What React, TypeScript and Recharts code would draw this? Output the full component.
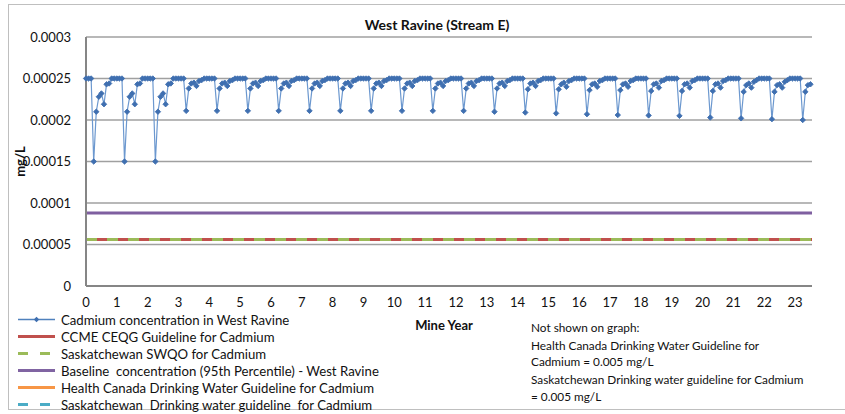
import React from 'react';
import { LineChart, Line, XAxis, YAxis, CartesianGrid, ReferenceLine, Legend } from 'recharts';

// mine year ticks along the bottom
const yearTicks = [0, 1, 2, 3, 4, 5, 6, 7, 8, 9, 10, 11, 12, 13, 14, 15, 16, 17, 18, 19, 20, 21, 22, 23];

const yTicks = [0, 0.00005, 0.0001, 0.00015, 0.0002, 0.00025, 0.0003];
const yTickLabels = ['0', '0.00005', '0.0001', '0.00015', '0.0002', '0.00025', '0.0003'];

// monthly cadmium concentration (mg/L), one row per mine year
const cadmiumByYear: number[][] = [
  [0.00025, 0.00025, 0.00025, 0.00015, 0.00021, 0.000228, 0.000232, 0.000219, 0.000243, 0.000244, 0.00025, 0.00025],
  [0.00025, 0.00025, 0.00025, 0.00015, 0.00021, 0.000228, 0.000232, 0.000219, 0.000243, 0.000244, 0.00025, 0.00025],
  [0.00025, 0.00025, 0.00025, 0.00015, 0.00021, 0.000228, 0.000232, 0.000219, 0.000243, 0.000244, 0.00025, 0.00025],
  [0.00025, 0.00025, 0.00025, 0.000211, 0.000238, 0.000244, 0.000245, 0.000241, 0.000247, 0.000248, 0.00025, 0.00025],
  [0.00025, 0.00025, 0.00025, 0.000211, 0.000238, 0.000244, 0.000245, 0.000241, 0.000247, 0.000248, 0.00025, 0.00025],
  [0.00025, 0.00025, 0.00025, 0.000211, 0.000238, 0.000244, 0.000245, 0.000241, 0.000247, 0.000248, 0.00025, 0.00025],
  [0.00025, 0.00025, 0.00025, 0.000211, 0.000238, 0.000244, 0.000245, 0.000241, 0.000247, 0.000248, 0.00025, 0.00025],
  [0.00025, 0.00025, 0.00025, 0.000211, 0.000238, 0.000244, 0.000245, 0.000241, 0.000247, 0.000248, 0.00025, 0.00025],
  [0.00025, 0.00025, 0.00025, 0.000211, 0.000238, 0.000244, 0.000245, 0.000241, 0.000247, 0.000248, 0.00025, 0.00025],
  [0.00025, 0.00025, 0.00025, 0.000211, 0.000238, 0.000244, 0.000245, 0.000241, 0.000247, 0.000248, 0.00025, 0.00025],
  [0.00025, 0.00025, 0.00025, 0.000211, 0.000238, 0.000244, 0.000245, 0.000241, 0.000247, 0.000248, 0.00025, 0.00025],
  [0.00025, 0.00025, 0.00025, 0.000211, 0.000238, 0.000244, 0.000245, 0.000241, 0.000247, 0.000248, 0.00025, 0.00025],
  [0.00025, 0.00025, 0.00025, 0.000211, 0.000238, 0.000244, 0.000245, 0.000241, 0.000247, 0.000248, 0.00025, 0.00025],
  [0.00025, 0.00025, 0.00025, 0.00021, 0.000238, 0.000244, 0.000245, 0.000241, 0.000247, 0.000248, 0.00025, 0.00025],
  [0.00025, 0.00025, 0.00025, 0.000209, 0.000237, 0.000244, 0.000245, 0.000241, 0.000247, 0.000248, 0.00025, 0.00025],
  [0.00025, 0.00025, 0.00025, 0.000208, 0.000237, 0.000243, 0.000245, 0.00024, 0.000247, 0.000248, 0.00025, 0.00025],
  [0.00025, 0.00025, 0.00025, 0.000207, 0.000236, 0.000243, 0.000244, 0.00024, 0.000247, 0.000248, 0.00025, 0.00025],
  [0.00025, 0.00025, 0.00025, 0.000206, 0.000236, 0.000243, 0.000244, 0.00024, 0.000247, 0.000248, 0.00025, 0.00025],
  [0.00025, 0.00025, 0.00025, 0.0002055, 0.000235, 0.000243, 0.000244, 0.000239, 0.000247, 0.000248, 0.00025, 0.00025],
  [0.00025, 0.00025, 0.00025, 0.000205, 0.000235, 0.000243, 0.000244, 0.000239, 0.000247, 0.000248, 0.00025, 0.00025],
  [0.00025, 0.00025, 0.00025, 0.000203, 0.000235, 0.000243, 0.000244, 0.000239, 0.000247, 0.000248, 0.00025, 0.00025],
  [0.00025, 0.00025, 0.00025, 0.000202, 0.000234, 0.000242, 0.000244, 0.000239, 0.000246, 0.000248, 0.00025, 0.00025],
  [0.00025, 0.00025, 0.00025, 0.000201, 0.000234, 0.000242, 0.000243, 0.000239, 0.000246, 0.000248, 0.00025, 0.00025],
  [0.00025, 0.00025, 0.00025, 0.0002, 0.000234, 0.000242, 0.000243],
];

const ccmeGuideline = 0.000056;
const swqoGuideline = 0.000056;
const baselineP95 = 0.000088;

const legendItems = [
  { label: 'Cadmium concentration in West Ravine', color: '#4F81BD', dashed: false, marker: true },
  { label: 'CCME CEQG Guideline for Cadmium', color: '#C0504D', dashed: false, marker: false },
  { label: 'Saskatchewan SWQO for Cadmium', color: '#9BBB59', dashed: true, marker: false },
  { label: 'Baseline  concentration (95th Percentile) - West Ravine', color: '#8064A2', dashed: false, marker: false },
  { label: 'Health Canada Drinking Water Guideline for Cadmium', color: '#F79646', dashed: false, marker: false },
  { label: 'Saskatchewan  Drinking water guideline  for Cadmium', color: '#4BACC6', dashed: true, marker: false },
];

const notes = [
  'Not shown on graph:',
  'Health Canada Drinking Water Guideline for',
  'Cadmium = 0.005 mg/L',
  'Saskatchewan Drinking water guideline for Cadmium',
  '= 0.005 mg/L',
];
const noteTops = [328, 346, 362, 380, 397];

const FONT = 'Lato, "Open Sans", sans-serif';

const data = cadmiumByYear.flatMap((months, y) =>
  months.map((v, m) => ({ year: y + m / 12, cadmium: v }))
);

const Diamond = (props: any) => {
  const { cx, cy } = props;
  if (cx == null || cy == null) return null;
  const r = 2.7;
  return (
    <path
      d={`M${cx},${cy - r}L${cx + r},${cy}L${cx},${cy + r}L${cx - r},${cy}Z`}
      fill="#3F6FB0"
      stroke="#3F6FB0"
      strokeWidth={0.9}
    />
  );
};

const renderLegend = () => (
  <div style={{ fontFamily: FONT, fontSize: 13.2, color: '#111' }}>
    {legendItems.map((item) => (
      <div key={item.label} style={{ display: 'flex', alignItems: 'center', height: 17, whiteSpace: 'pre' }}>
        <svg width={43} height={17} style={{ display: 'block' }}>
          <line
            x1={0}
            x2={37}
            y1={8.5}
            y2={8.5}
            stroke={item.color}
            strokeWidth={item.marker ? 1.3 : 3}
            strokeDasharray={item.dashed ? '10 12' : undefined}
          />
          {item.marker && <path d="M18.5,5.8L21.2,8.5L18.5,11.2L15.8,8.5Z" fill="#3F6FB0" />}
        </svg>
        <span style={{ lineHeight: '14px' }}>{item.label}</span>
      </div>
    ))}
  </div>
);

export default function App() {
  return (
    <div style={{ position: 'absolute', left: 0, top: 0, width: 845, height: 414, overflow: 'hidden', background: '#fff' }}>
      <div
        style={{
          position: 'absolute',
          left: 8,
          top: 4,
          width: 837,
          height: 406,
          boxSizing: 'border-box',
          borderTop: '1px solid #BFBFBF',
          borderLeft: '1px solid #BFBFBF',
          borderBottom: '1px solid #BFBFBF',
        }}
      />
      <div
        style={{
          position: 'absolute',
          left: 0,
          width: 874,
          top: 16,
          textAlign: 'center',
          fontFamily: FONT,
          fontWeight: 'bold',
          fontSize: 14,
          color: '#111',
        }}
      >
        West Ravine (Stream E)
      </div>
      <LineChart width={845} height={414} data={data} margin={{ top: 37, right: 33, bottom: 0, left: 0 }}>
        <CartesianGrid vertical={false} stroke="#A0A0A0" strokeWidth={1.5} />
        <XAxis
          type="number"
          dataKey="year"
          domain={[0, 23.55]}
          ticks={yearTicks}
          interval={0}
          tickLine={false}
          tickMargin={6}
          axisLine={{ stroke: '#868686', strokeWidth: 2 }}
          tick={{ fontFamily: FONT, fontSize: 13, fill: '#111' }}
          label={{
            value: 'Mine Year',
            position: 'insideTop',
            offset: 35,
            dx: -5,
            style: { fontFamily: FONT, fontWeight: 'bold', fontSize: 13, fill: '#111' },
          }}
          height={128}
        />
        <YAxis
          type="number"
          domain={[0, 0.0003]}
          ticks={yTicks}
          interval={0}
          width={86}
          tickLine={false}
          tickMargin={9}
          axisLine={{ stroke: '#868686', strokeWidth: 2 }}
          tick={{ fontFamily: FONT, fontSize: 13, fill: '#111' }}
          tickFormatter={(v: number) => yTickLabels[yTicks.indexOf(v)] ?? String(v)}
          label={{
            value: 'mg/L',
            angle: -90,
            position: 'insideLeft',
            offset: 20,
            style: { textAnchor: 'middle', fontFamily: FONT, fontWeight: 'bold', fontSize: 13, fill: '#111' },
          }}
        />
        <ReferenceLine y={baselineP95} stroke="#7F5FA0" strokeWidth={3} />
        <ReferenceLine y={ccmeGuideline} stroke="#C0504D" strokeWidth={3} />
        <ReferenceLine y={swqoGuideline} stroke="#9BBB59" strokeWidth={3} strokeDasharray="11 10" />
        <Line
          type="linear"
          dataKey="cadmium"
          stroke="#6C98CF"
          strokeWidth={1.2}
          dot={<Diamond />}
          activeDot={false}
          isAnimationActive={false}
        />
        <Legend
          layout="horizontal"
          align="center"
          verticalAlign="middle"
          content={renderLegend}
          wrapperStyle={{ position: 'absolute', left: 18, top: 311, width: 420, height: 103 }}
        />
      </LineChart>
      <div
        style={{ position: 'absolute', left: 0, top: 0, fontFamily: FONT, fontSize: 11.8, color: '#111', pointerEvents: 'none' }}
      >
        {notes.map((t, i) => (
          <div key={t} style={{ position: 'absolute', left: 531, top: noteTops[i] - 8, whiteSpace: 'pre' }}>
            {t}
          </div>
        ))}
      </div>
    </div>
  );
}
